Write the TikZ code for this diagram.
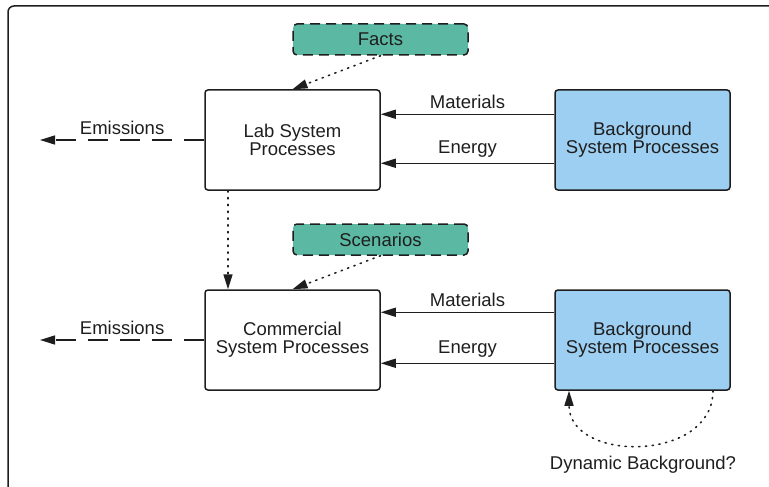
\documentclass[tikz,border=0pt]{standalone}
\usepackage{fontspec}
\setmainfont{Liberation Sans}
\usetikzlibrary{arrows.meta,positioning}
\definecolor{factteal}{RGB}{91,185,163}
\definecolor{bgblue}{RGB}{157,207,242}
\definecolor{inkgray}{RGB}{30,30,30}
\newcommand{\diagfont}{\fontsize{18.5}{18}\selectfont}
\tikzset{
  procbox/.style={draw=inkgray,line width=1.5pt,rounded corners=3pt,minimum width=175pt,minimum height=100pt,align=center,font=\diagfont,text=inkgray},
  bgbox/.style={procbox,fill=bgblue},
  tagbox/.style={draw=inkgray,line width=1.5pt,dash pattern=on 10pt off 6pt,rounded corners=4pt,fill=factteal,minimum width=175pt,minimum height=31pt,font=\diagfont,text=inkgray},
  flow/.style={draw=inkgray,line width=1.5pt,-{Triangle[length=15pt,width=9pt]}},
  emitflow/.style={flow,dash pattern=on 20pt off 12pt},
  info/.style={draw=inkgray,line width=1.6pt,dash pattern=on 1.3pt off 5.5pt,line cap=round,-{Triangle[length=15pt,width=9pt]}},
  flowlabel/.style={font=\diagfont,text=inkgray,inner sep=2pt}
}
\begin{document}
\begin{tikzpicture}[x=1pt,y=-1pt]
\useasboundingbox (0,0) rectangle (769,487);
\clip (0,0) rectangle (769,487);
\draw[inkgray,line width=1.5pt,rounded corners=6pt] (8,6) rectangle (800,520);

% lab level
\node[tagbox] (facts) at (380.5,39.5) {Facts};
\node[procbox] (lab) at (292.5,140) {Lab System\\Processes};
\node[bgbox] (bgA) at (642.5,140) {Background\\System Processes};
\coordinate (emA) at (40,140);

% commercial level
\node[tagbox] (scen) at (380.5,239.5) {Scenarios};
\node[procbox] (com) at (292.5,340) {Commercial\\System Processes};
\node[bgbox] (bgB) at (642.5,340) {Background\\System Processes};
\coordinate (emB) at (40,340);
\node[flowlabel] (dyn) at (643,465) {Dynamic Background?};

% inputs
\draw[flow] ([yshift=-25pt]bgA.north west) -- ([yshift=-25pt]lab.north east) node[flowlabel,midway,above=3pt] {Materials};
\draw[flow] ([yshift=-74pt]bgA.north west) -- ([yshift=-74pt]lab.north east) node[flowlabel,midway,above=3pt] {Energy};
\draw[flow] ([yshift=-23pt]bgB.north west) -- ([yshift=-23pt]com.north east) node[flowlabel,midway,above=3pt] {Materials};
\draw[flow] ([yshift=-74pt]bgB.north west) -- ([yshift=-74pt]com.north east) node[flowlabel,midway,above=3pt] {Energy};

% emissions
\draw[emitflow] (lab.west) -- (emA) node[flowlabel,midway,above=3pt] {Emissions};
\draw[emitflow] (com.west) -- (emB) node[flowlabel,midway,above=3pt] {Emissions};

% dotted links
\draw[info] (facts.south) -- (lab.north);
\draw[info] (scen.south) -- (com.north);
\draw[info] ([xshift=-64.5pt]lab.south) -- ([xshift=-64.5pt]com.north);
\draw[info] ([xshift=70.5pt]bgB.south) .. controls +(0,72) and +(0,72) .. ([xshift=-73.5pt]bgB.south);
\end{tikzpicture}
\end{document}
